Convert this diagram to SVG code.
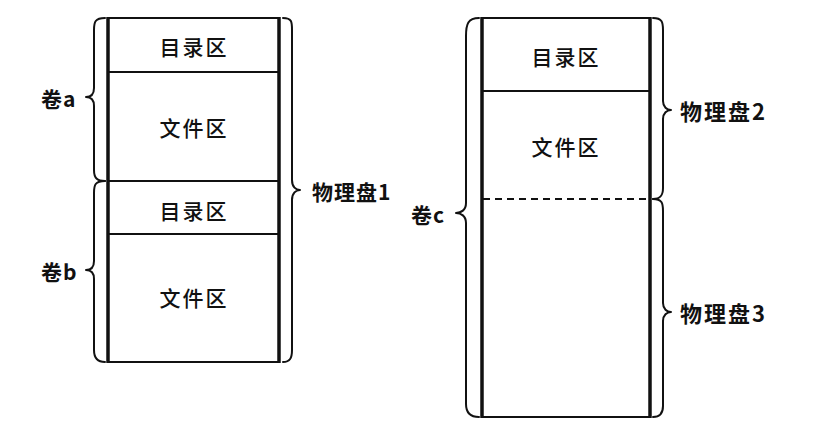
<svg xmlns="http://www.w3.org/2000/svg" width="820" height="430" viewBox="0 0 820 430">
<style>
  .bg{fill:#fff}
  .thick{stroke:#111;stroke-width:3.5;fill:none}
  .thin{stroke:#111;stroke-width:2;fill:none}
  .dash{stroke:#111;stroke-width:2;fill:none;stroke-dasharray:7 5}
  .brace{stroke:#111;stroke-width:2;fill:none;stroke-linecap:round;stroke-linejoin:round}
  .t{font-family:"Noto Sans CJK SC","Liberation Sans",sans-serif;font-size:21px;font-weight:500;fill:#111;text-anchor:middle;dominant-baseline:central;letter-spacing:2px}
  .lab{font-family:"Noto Sans CJK SC","Liberation Serif",serif;font-size:21px;font-weight:bold;fill:#111;dominant-baseline:central;letter-spacing:1px}
  .lab2{font-family:"Noto Sans CJK SC","Liberation Serif",serif;font-size:22px;font-weight:bold;fill:#111;dominant-baseline:central;letter-spacing:2px}
</style>
<rect class="bg" x="0" y="0" width="820" height="430"/>

<g id="disk1">
  <line class="thin" x1="107" y1="18" x2="279" y2="18"/>
  <line class="thin" x1="107" y1="72" x2="279" y2="72"/>
  <line class="thin" x1="107" y1="181" x2="279" y2="181"/>
  <line class="thin" x1="107" y1="234" x2="279" y2="234"/>
  <line class="thin" x1="107" y1="362" x2="279" y2="362"/>
  <line class="thick" x1="108" y1="17" x2="108" y2="363"/>
  <line class="thick" x1="279" y1="17" x2="279" y2="363"/>
  <text class="t" x="194" y="46">目录区</text>
  <text class="t" x="194" y="127">文件区</text>
  <text class="t" x="194" y="210">目录区</text>
  <text class="t" x="194" y="297">文件区</text>
</g>

<g id="disk2">
  <line class="thin" x1="481" y1="18" x2="650" y2="18"/>
  <line class="thin" x1="481" y1="91" x2="650" y2="91"/>
  <line class="dash" x1="483" y1="199" x2="648" y2="199"/>
  <line class="thin" x1="481" y1="417" x2="650" y2="417"/>
  <line class="thick" x1="482" y1="17" x2="482" y2="418"/>
  <line class="thick" x1="650" y1="17" x2="650" y2="418"/>
  <text class="t" x="566" y="56">目录区</text>
  <text class="t" x="566" y="146">文件区</text>
</g>

<g id="connectors">
  <g id="brace-a">
    <path class="brace" d="M105,18 C95,18 94,22 94,30 L94,88 C94,95 90,97 86,97 C90,97 94,99 94,106 L94,170 C94,178 97,181 105,181"/>
    <text class="lab" x="41" y="98">卷a</text>
  </g>
  <g id="brace-b">
    <path class="brace" d="M105,181 C95,181 94,185 94,193 L94,261 C94,268 90,270 86,270 C90,270 94,272 94,279 L94,350 C94,358 97,362 105,362"/>
    <text class="lab" x="41" y="271">卷b</text>
  </g>
  <g id="brace-pd1">
    <path class="brace" d="M283,18 C292,18 292,22 292,30 L292,180 C292,187 296,190 300,190 C296,190 292,193 292,200 L292,350 C292,358 290,362 283,362"/>
    <text class="lab" x="312" y="191">物理盘1</text>
  </g>
  <g id="brace-c">
    <path class="brace" d="M479,18 C468,18 466,24 466,36 L466,203 C466,210 461,213 456,213 C461,213 466,216 466,223 L466,404 C466,412 470,417 479,417"/>
    <text class="lab" x="411" y="214">卷c</text>
  </g>
  <g id="brace-pd2">
    <path class="brace" d="M653,18 C662,18 663,22 663,30 L663,101 C663,107 667,110 671,110 C667,110 663,113 663,119 L663,188 C663,196 660,199 653,199"/>
    <text class="lab2" x="680" y="110">物理盘2</text>
  </g>
  <g id="brace-pd3">
    <path class="brace" d="M653,199 C662,199 663,203 663,211 L663,303 C663,309 667,312 671,312 C667,312 663,315 663,321 L663,406 C663,413 660,417 653,417"/>
    <text class="lab2" x="680" y="312">物理盘3</text>
  </g>
</g>
</svg>
